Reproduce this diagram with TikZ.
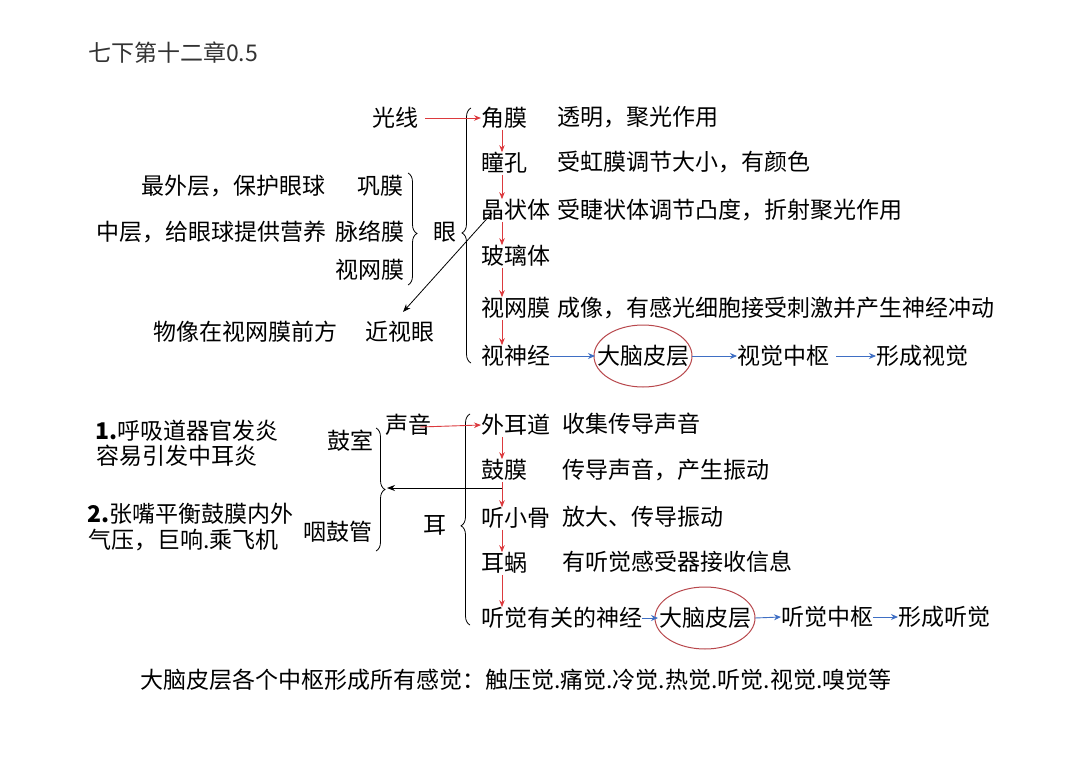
\documentclass[tikz,border=0pt]{standalone}
\usepackage{fontspec}
\setmainfont{Noto Sans CJK SC}
\usetikzlibrary{decorations.pathreplacing,arrows.meta,shapes.geometric}
\definecolor{redarr}{HTML}{DC3A3E}
\definecolor{ellc}{HTML}{B8474C}
\definecolor{bluearr}{HTML}{3F6FC4}
\begin{document}
\begin{tikzpicture}[x=1pt,y=-1pt,
  t/.style={anchor=west,inner sep=0pt,font=\fontsize{23}{26}\selectfont},
  rarr/.style={-{Stealth[length=7pt,width=5.5pt]},draw=redarr,line width=0.9pt},
  barr/.style={-{Stealth[length=7pt,width=6pt]},draw=bluearr,line width=0.9pt},
  karr/.style={-{Stealth[length=8pt,width=6pt]},draw=black,line width=0.8pt},
  brc/.style={decorate,decoration={brace,amplitude=9pt,aspect=#1},line width=0.8pt},
  brc/.default=0.5,
  ell/.style={draw=ellc,line width=1pt}]
\fill[white] (0,0) rectangle (1080,763);
\useasboundingbox (0,0) rectangle (1080,763);

% title
\node[t,text=black!80,font=\fontsize{23}{26}\selectfont] (title) at (88,53) {七下第十二章0.5};

% ---- eye ----
\node[t] (gx) at (372,118) {光线};
\node[t] (jm) at (481,118) {角膜};
\node[t] (jmd) at (557,117) {透明，聚光作用};
\node[t] (tk) at (481,163) {瞳孔};
\node[t] (tkd) at (557,162) {受虹膜调节大小，有颜色};
\node[t] (jzt) at (481,210) {晶状体};
\node[t] (jztd) at (557,210) {受睫状体调节凸度，折射聚光作用};
\node[t] (blt) at (481,256) {玻璃体};
\node[t] (swm) at (481,308) {视网膜};
\node[t] (swmd) at (557,308) {成像，有感光细胞接受刺激并产生神经冲动};
\node[t] (ssj) at (481,356) {视神经};
\node[t,anchor=center] (dn1) at (643,356) {大脑皮层};
\draw[ell] (dn1.center) ellipse [x radius=49, y radius=31];
\node[t] (sjzs) at (737,356) {视觉中枢};
\node[t] (xcsj) at (876,356) {形成视觉};

\node[t,anchor=east] (zwc) at (326,186) {最外层，保护眼球};
\node[t] (gm1) at (357,186) {巩膜};
\node[t,anchor=east] (zc) at (327,232) {中层，给眼球提供营养};
\node[t] (mlm) at (335,232) {脉络膜};
\node[t] (swm2) at (335,270) {视网膜};
\node[t] (yan) at (433,232) {眼};
\node[t,anchor=east] (wx) at (338,332) {物像在视网膜前方};
\node[t] (jsy) at (365,332) {近视眼};

\draw[brc=0.54] (408,173) -- (408,285);
\draw[brc=0.51] (471,363) -- (471,108);

\coordinate (gxs) at (425,118);
\draw[rarr] (gxs) -- (jm.west);
\foreach \a/\b in {jm/tk,tk/jzt,jzt/blt,blt/swm,swm/ssj}
  \draw[rarr,shorten <=1pt] ([xshift=21pt]\a.south west) -- ([xshift=21pt]\b.north west);
\coordinate (jx) at (492,213);
\coordinate (jxe) at (403,312);
\draw[karr] (jx) -- (jxe);

\draw[barr] (ssj.east) -- ([xshift=-48pt]dn1.center);
\draw[barr] ([xshift=49pt]dn1.center) -- (sjzs.west);
\draw[barr,shorten <=7pt] (sjzs.east) -- (xcsj.west);

% ---- ear ----
\node[t] (sy) at (385,425) {声音};
\node[t] (wed) at (481,425) {外耳道};
\node[t] (wedd) at (562,424) {收集传导声音};
\node[t] (gm) at (481,470) {鼓膜};
\node[t] (gmd) at (562,470) {传导声音，产生振动};
\node[t] (txg) at (481,518) {听小骨};
\node[t] (txgd) at (562,517) {放大、传导振动};
\node[t] (ew) at (481,563) {耳蜗};
\node[t] (ewd) at (562,562) {有听觉感受器接收信息};
\node[t] (tjsj) at (481,618) {听觉有关的神经};
\node[t,anchor=center] (dn2) at (705,618) {大脑皮层};
\draw[ell] (dn2.center) ellipse [x radius=50, y radius=31];
\node[t] (tjzs) at (781,617) {听觉中枢};
\node[t] (xctj) at (898,617) {形成听觉};

\node[t] (er) at (423,525) {耳};
\node[t] (gs) at (327,441) {鼓室};
\node[t] (ygg) at (303,532) {咽鼓管};

\node[t] (n1a) at (95,431) {\textbf{1.}呼吸道器官发炎};
\node[t] (n1b) at (96,456) {容易引发中耳炎};
\node[t] (n2a) at (87,514) {\textbf{2.}张嘴平衡鼓膜内外};
\node[t] (n2b) at (88,540) {气压，巨响.乘飞机};

\draw[brc=0.47] (470,625) -- (470,414);
\draw[brc=0.5] (376,428) -- (376,551);

\coordinate (sys) at (420,427);
\draw[rarr] (sys) -- (wed.west);
\foreach \a/\b in {wed/gm,gm/txg,txg/ew,ew/tjsj}
  \draw[rarr,shorten <=1pt] ([xshift=21pt]\a.south west) -- ([xshift=21pt]\b.north west);
\coordinate (gmx) at (502,488);
\coordinate (btip) at (387,488);
\draw[karr] (gmx) -- (btip);

\draw[barr] (tjsj.east) -- ([xshift=-47pt]dn2.center);
\draw[barr] ([xshift=50pt]dn2.center) -- (tjzs.west);
\draw[barr] (tjzs.east) -- (xctj.west);

% bottom
\node[t] (bottom) at (140,680) {大脑皮层各个中枢形成所有感觉：触压觉.痛觉.冷觉.热觉.听觉.视觉.嗅觉等};
\end{tikzpicture}
\end{document}
